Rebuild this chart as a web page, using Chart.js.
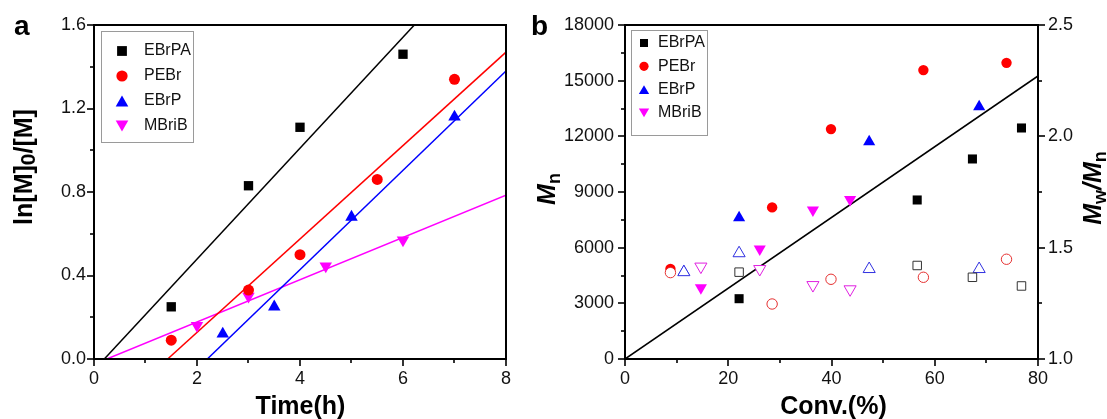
<!DOCTYPE html>
<html><head><meta charset="utf-8">
<script src="https://cdn.jsdelivr.net/npm/chart.js@4.4.1/dist/chart.umd.min.js"></script>
<style>
html,body{margin:0;padding:0;background:#fff;width:1107px;height:419px;overflow:hidden}
#ca{position:absolute;left:0;top:0}
#cb{position:absolute;left:520px;top:0}
</style></head><body>
<canvas id="ca" width="520" height="419"></canvas>
<canvas id="cb" width="587" height="419"></canvas>
<script>
// ---------- data : panel a (kinetics) ----------
const seriesNames = ['EBrPA', 'PEBr', 'EBrP', 'MBriB'];
const seriesColors = ['#000000', '#ff0000', '#0000ff', '#ff00ff'];
const aEBrPA_t = [1.5, 3, 4, 6],        aEBrPA_y = [0.25, 0.83, 1.11, 1.46];
const aPEBr_t  = [1.5, 3, 4, 5.5, 7],   aPEBr_y  = [0.09, 0.33, 0.50, 0.86, 1.34];
const aEBrP_t  = [2.5, 3.5, 5, 7],      aEBrP_y  = [0.12, 0.25, 0.68, 1.16];
const aMBriB_t = [2, 3, 4.5, 6],        aMBriB_y = [0.16, 0.30, 0.445, 0.57];
// linear fits
const fitEBrPA_t = [0.2, 6.22],  fitEBrPA_y = [0, 1.6];
const fitPEBr_t  = [1.43, 8],    fitPEBr_y  = [0, 1.47];
const fitEBrP_t  = [2.2, 8],     fitEBrP_y  = [0, 1.38];
const fitMBriB_t = [0.25, 8],    fitMBriB_y = [0, 0.785];
// ticks panel a
const aXMajor = [0, 2, 4, 6, 8], aXMinor = [1, 3, 5, 7];
const aYMajor = [0, 0.4, 0.8, 1.2, 1.6], aYMinor = [0.2, 0.6, 1.0, 1.4];

// ---------- data : panel b (Mn and PDI vs conversion) ----------
const bEBrPA_c = [22.1, 56.6, 67.3, 76.8];
const bEBrPA_mn = [3250, 8570, 10780, 12450];
const bEBrPA_pdi = [1.39, 1.42, 1.367, 1.328];
const bPEBr_c = [8.8, 28.5, 39.9, 57.8, 73.9];
const bPEBr_mn = [4850, 8170, 12390, 15570, 15960];
const bPEBr_pdi = [1.388, 1.247, 1.358, 1.367, 1.448];
const bEBrP_c = [11.4, 22.1, 47.3, 68.6];
const bEBrP_mn = [4700, 7610, 11710, 13600];
const bEBrP_pdi = [1.39, 1.475, 1.404, 1.404];
const bMBriB_c = [14.7, 26.1, 36.4, 43.6];
const bMBriB_mn = [3840, 5930, 8030, 8600];
const bMBriB_pdi = [1.415, 1.404, 1.332, 1.313];
const theoryC = [0, 80], theoryMn = [0, 15250];
// ticks panel b
const bXMajor = [0, 20, 40, 60, 80], bXMinor = [10, 30, 50, 70];
const bYMajor = [0, 3000, 6000, 9000, 12000, 15000, 18000], bYMinor = [1500, 4500, 7500, 10500, 13500, 16500];
const bY2Major = [1.0, 1.5, 2.0, 2.5], bY2Minor = [1.25, 1.75, 2.25];

// ---------- helpers ----------
const FF = "'Liberation Sans', Arial, sans-serif";
const pts = (xs, ys) => xs.map((x, i) => ({x, y: ys[i]}));
const styles = [
  {pointStyle: 'rect', rotation: 0},
  {pointStyle: 'circle', rotation: 0},
  {pointStyle: 'triangle', rotation: 0},
  {pointStyle: 'triangle', rotation: 180}
];

function drawRich(ctx, parts, x, y, align) {
  // parts: [{t, font, dy}]
  let w = 0;
  parts.forEach(p => { ctx.font = p.font; p.w = ctx.measureText(p.t).width; w += p.w; });
  let cx = align === 'center' ? x - w / 2 : x;
  parts.forEach(p => { ctx.font = p.font; ctx.fillText(p.t, cx, y + (p.dy || 0)); cx += p.w; });
}

const framePlugin = {
  id: 'frameTicks',
  afterDraw(chart, args, o) {
    const ctx = chart.ctx, a = chart.chartArea;
    ctx.save();
    ctx.strokeStyle = '#000';
    ctx.lineWidth = 2;
    ctx.strokeRect(a.left, a.top, a.right - a.left, a.bottom - a.top);
    ctx.lineWidth = 1.6;
    o.ticks.forEach(t => {
      const sc = chart.scales[t.axis];
      const draw = (v, len) => {
        const p = Math.round(sc.getPixelForValue(v)) + 0.0;
        ctx.beginPath();
        if (t.pos === 'bottom') { ctx.moveTo(p, a.bottom); ctx.lineTo(p, a.bottom + len); }
        else if (t.pos === 'left') { ctx.moveTo(a.left, p); ctx.lineTo(a.left - len, p); }
        else { ctx.moveTo(a.right, p); ctx.lineTo(a.right + len, p); }
        ctx.stroke();
      };
      t.major.forEach(v => draw(v, 7));
      t.minor.forEach(v => draw(v, 4));
    });
    // legend
    const L = o.legend;
    ctx.lineWidth = 1;
    ctx.strokeStyle = '#9a9a9a';
    ctx.strokeRect(L.x + 0.5, L.y + 0.5, L.w, L.h);
    ctx.font = L.font;
    ctx.textBaseline = 'middle';
    ctx.textAlign = 'left';
    seriesNames.forEach((n, i) => {
      const yy = L.y + L.first + i * L.step;
      ctx.fillStyle = seriesColors[i];
      ctx.strokeStyle = seriesColors[i];
      const st = styles[i];
      const r = st.pointStyle === 'rect' ? L.r * 1.05 : (st.pointStyle === 'circle' ? L.r * 0.85 : L.r * 1.1);
      Chart.helpers.drawPoint(ctx, {pointStyle: st.pointStyle, rotation: st.rotation, radius: r, borderWidth: 0},
        L.mx, yy + (st.pointStyle === 'triangle' ? (st.rotation ? -r / 4 : r / 4) : 0));
      ctx.fillStyle = '#111';
      ctx.fillText(n, L.tx, yy);
    });
    // titles
    ctx.fillStyle = '#000';
    ctx.textBaseline = 'alphabetic';
    o.titles(ctx);
    ctx.restore();
  }
};

const tickFont = {family: FF, size: 18};
const noGrid = {display: false, drawTicks: false};
const noBorder = {display: false};

// ---------- panel a ----------
const aDatasets = [];
[[fitEBrPA_t, fitEBrPA_y], [fitPEBr_t, fitPEBr_y], [fitEBrP_t, fitEBrP_y], [fitMBriB_t, fitMBriB_y]].forEach((f, i) => {
  aDatasets.push({data: pts(f[0], f[1]), showLine: true, borderColor: seriesColors[i], borderWidth: 1.5,
    pointRadius: 0, order: 5, clip: 0});
});
[[aEBrPA_t, aEBrPA_y], [aPEBr_t, aPEBr_y], [aEBrP_t, aEBrP_y], [aMBriB_t, aMBriB_y]].forEach((s, i) => {
  const st = styles[i];
  aDatasets.push({data: pts(s[0], s[1]), showLine: false, backgroundColor: seriesColors[i], borderColor: seriesColors[i],
    borderWidth: 0, pointStyle: st.pointStyle, rotation: st.rotation,
    pointRadius: st.pointStyle === 'rect' ? 6.6 : (st.pointStyle === 'circle' ? 5.5 : 7.2), order: 1});
});

new Chart(document.getElementById('ca'), {
  type: 'scatter',
  data: {datasets: aDatasets},
  options: {
    responsive: false, animation: false, devicePixelRatio: 1,
    layout: {padding: {top: 25, right: 13, left: 0, bottom: 0}},
    plugins: {
      legend: {display: false}, tooltip: {enabled: false},
      frameTicks: {
        ticks: [{axis: 'x', pos: 'bottom', major: aXMajor, minor: aXMinor},
                {axis: 'y', pos: 'left', major: aYMajor, minor: aYMinor}],
        legend: {x: 101, y: 31, w: 92, h: 111, first: 20, step: 25, mx: 122, tx: 144, r: 6.6, font: '16px ' + FF},
        titles(ctx) {
          ctx.font = 'bold 28px ' + FF;
          ctx.textAlign = 'left';
          ctx.fillText('a', 14, 35);
          ctx.textAlign = 'left';
          drawRich(ctx, [{t: 'Time(h)', font: 'bold 25px ' + FF}], 300.5, 414, 'center');
          ctx.save();
          ctx.translate(32, 167);
          ctx.rotate(-Math.PI / 2);
          drawRich(ctx, [{t: 'ln[M]', font: 'bold 25px ' + FF},
                         {t: '0', font: 'bold 21px ' + FF, dy: 3},
                         {t: '/[M]', font: 'bold 25px ' + FF}], 0, 0, 'center');
          ctx.restore();
        }
      }
    },
    scales: {
      x: {type: 'linear', min: 0, max: 8, afterFit(s) { s.height = 60; },
          ticks: {stepSize: 2, font: tickFont, color: '#111', padding: 9, maxRotation: 0},
          grid: noGrid, border: noBorder},
      y: {type: 'linear', min: 0, max: 1.6, afterFit(s) { s.width = 94; },
          ticks: {stepSize: 0.4, font: tickFont, color: '#111', padding: 8, callback: v => v.toFixed(1)},
          grid: noGrid, border: noBorder}
    }
  },
  plugins: [framePlugin]
});

// ---------- panel b ----------
const bDatasets = [{data: pts(theoryC, theoryMn), showLine: true, borderColor: '#000', borderWidth: 1.6,
  pointRadius: 0, order: 5, yAxisID: 'y', clip: 0}];
const bFilled = [[bEBrPA_c, bEBrPA_mn], [bPEBr_c, bPEBr_mn], [bEBrP_c, bEBrP_mn], [bMBriB_c, bMBriB_mn]];
const bOpen = [[bEBrPA_c, bEBrPA_pdi], [bPEBr_c, bPEBr_pdi], [bEBrP_c, bEBrP_pdi], [bMBriB_c, bMBriB_pdi]];
const openColors = ['#333333', '#e53030', '#3030e0', '#e020e0'];
bFilled.forEach((s, i) => {
  const st = styles[i];
  bDatasets.push({data: pts(s[0], s[1]), showLine: false, backgroundColor: seriesColors[i], borderColor: seriesColors[i],
    borderWidth: 0, pointStyle: st.pointStyle, rotation: st.rotation, yAxisID: 'y',
    pointRadius: st.pointStyle === 'rect' ? 6.4 : (st.pointStyle === 'circle' ? 5.2 : 7), order: 2});
});
bOpen.forEach((s, i) => {
  const st = styles[i];
  bDatasets.push({data: pts(s[0], s[1]), showLine: false, backgroundColor: '#ffffff', borderColor: openColors[i],
    borderWidth: 1, pointStyle: st.pointStyle, rotation: st.rotation, yAxisID: 'y2',
    pointRadius: st.pointStyle === 'rect' ? 6 : (st.pointStyle === 'circle' ? 5.2 : 7), order: 1});
});

new Chart(document.getElementById('cb'), {
  type: 'scatter',
  data: {datasets: bDatasets},
  options: {
    responsive: false, animation: false, devicePixelRatio: 1,
    layout: {padding: {top: 25, right: 0, left: 0, bottom: 0}},
    plugins: {
      legend: {display: false}, tooltip: {enabled: false},
      frameTicks: {
        ticks: [{axis: 'x', pos: 'bottom', major: bXMajor, minor: bXMinor},
                {axis: 'y', pos: 'left', major: bYMajor, minor: bYMinor},
                {axis: 'y2', pos: 'right', major: bY2Major, minor: bY2Minor}],
        legend: {x: 111, y: 30, w: 76, h: 105, first: 13, step: 23.3, mx: 124, tx: 138, r: 5.4, font: '16px ' + FF},
        titles(ctx) {
          ctx.font = 'bold 28px ' + FF;
          ctx.textAlign = 'left';
          ctx.fillText('b', 11, 35);
          drawRich(ctx, [{t: 'Conv.(%)', font: 'bold 25px ' + FF}], 313.5, 414, 'center');
          ctx.save();
          ctx.translate(35, 189);
          ctx.rotate(-Math.PI / 2);
          drawRich(ctx, [{t: 'M', font: 'italic bold 25px ' + FF},
                         {t: 'n', font: 'bold 18px ' + FF, dy: 5}], 0, 0, 'center');
          ctx.restore();
          ctx.save();
          ctx.translate(581, 188);
          ctx.rotate(-Math.PI / 2);
          drawRich(ctx, [{t: 'M', font: 'italic bold 25px ' + FF},
                         {t: 'w', font: 'bold 18px ' + FF, dy: 5},
                         {t: '/', font: 'italic bold 25px ' + FF},
                         {t: 'M', font: 'italic bold 25px ' + FF},
                         {t: 'n', font: 'bold 18px ' + FF, dy: 5}], 0, 0, 'center');
          ctx.restore();
        }
      }
    },
    scales: {
      x: {type: 'linear', min: 0, max: 80, afterFit(s) { s.height = 60; },
          ticks: {stepSize: 20, font: tickFont, color: '#111', padding: 9, maxRotation: 0},
          grid: noGrid, border: noBorder},
      y: {type: 'linear', position: 'left', min: 0, max: 18000, afterFit(s) { s.width = 105; },
          ticks: {stepSize: 3000, font: tickFont, color: '#111', padding: 11, callback: v => String(v)},
          grid: noGrid, border: noBorder},
      y2: {type: 'linear', position: 'right', min: 1.0, max: 2.5, afterFit(s) { s.width = 69; },
          ticks: {stepSize: 0.5, font: tickFont, color: '#111', padding: 10, callback: v => v.toFixed(1)},
          grid: noGrid, border: noBorder}
    }
  },
  plugins: [framePlugin]
});
</script>
</body></html>
